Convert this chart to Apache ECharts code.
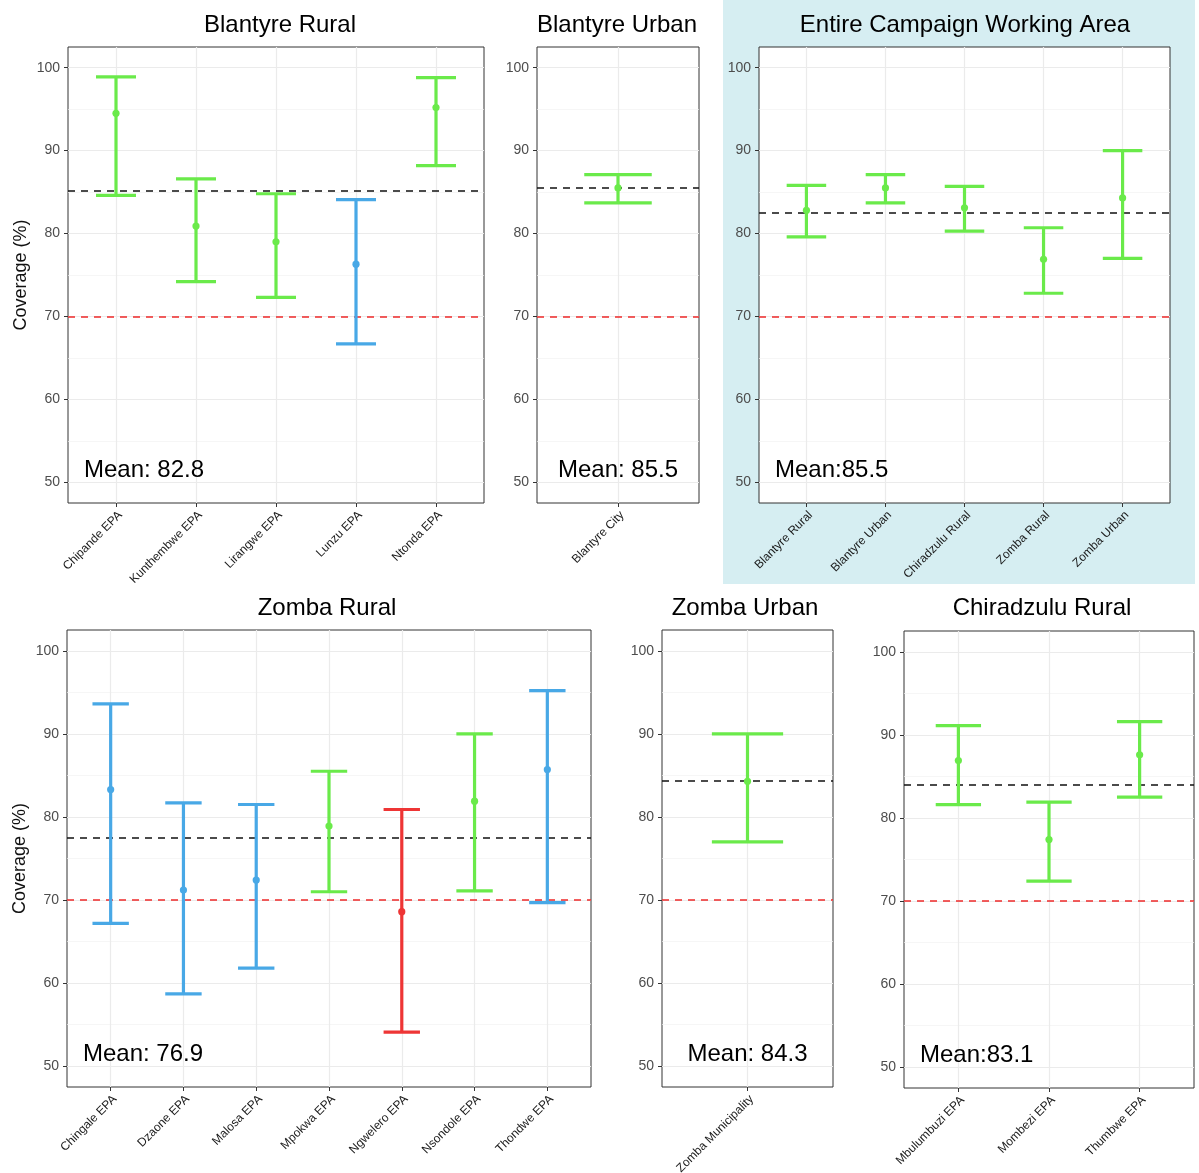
<!DOCTYPE html>
<html>
<head>
<meta charset="utf-8">
<script src="https://cdn.jsdelivr.net/npm/echarts@6/dist/echarts.min.js"></script>
<style>
html,body{margin:0;padding:0;background:#fff;}
#chart{width:1199px;height:1173px;}
</style>
</head>
<body>
<div id="chart"></div>
<script>
// ---------------- DATA ----------------
const threshold = 70;
const yTicks = [50, 60, 70, 80, 90, 100];
const yMinor = [55, 65, 75, 85, 95];

const brTitle = 'Blantyre Rural';
const brCats = ['Chipande EPA', 'Kunthembwe EPA', 'Lirangwe EPA', 'Lunzu EPA', 'Ntonda EPA'];
const brMean = [94.5, 80.9, 79.0, 76.3, 95.2];
const brLower = [84.6, 74.2, 72.3, 66.7, 88.2];
const brUpper = [98.9, 86.6, 84.8, 84.1, 98.8];
const brRef = 85.2;
const brLabel = 'Mean: 82.8';

const buTitle = 'Blantyre Urban';
const buCats = ['Blantyre City'];
const buMean = [85.5];
const buLower = [83.7];
const buUpper = [87.1];
const buRef = 85.5;
const buLabel = 'Mean: 85.5';

const ecTitle = 'Entire Campaign Working Area';
const ecCats = ['Blantyre Rural', 'Blantyre Urban', 'Chiradzulu Rural', 'Zomba Rural', 'Zomba Urban'];
const ecMean = [82.8, 85.5, 83.1, 76.9, 84.3];
const ecLower = [79.6, 83.7, 80.3, 72.8, 77.0];
const ecUpper = [85.8, 87.1, 85.7, 80.7, 90.0];
const ecRef = 82.5;
const ecLabel = 'Mean:85.5';

const zrTitle = 'Zomba Rural';
const zrCats = ['Chingale EPA', 'Dzaone EPA', 'Malosa EPA', 'Mpokwa EPA', 'Ngwelero EPA', 'Nsondole EPA', 'Thondwe EPA'];
const zrMean = [83.3, 71.2, 72.4, 78.9, 68.6, 81.9, 85.7];
const zrLower = [67.2, 58.7, 61.8, 71.0, 54.1, 71.1, 69.7];
const zrUpper = [93.6, 81.7, 81.5, 85.5, 80.9, 90.0, 95.2];
const zrRef = 77.5;
const zrLabel = 'Mean: 76.9';

const zuTitle = 'Zomba Urban';
const zuCats = ['Zomba Municipality'];
const zuMean = [84.3];
const zuLower = [77.0];
const zuUpper = [90.0];
const zuRef = 84.3;
const zuLabel = 'Mean: 84.3';

const crTitle = 'Chiradzulu Rural';
const crCats = ['Mbulumbuzi EPA', 'Mombezi EPA', 'Thumbwe EPA'];
const crMean = [86.9, 77.4, 87.6];
const crLower = [81.6, 72.4, 82.5];
const crUpper = [91.1, 81.9, 91.6];
const crRef = 84.0;
const crLabel = 'Mean:83.1';

// ---------------- LAYOUT / STYLE ----------------
const FONT = '"Liberation Sans", Arial, Helvetica, sans-serif';
const GREEN = '#6AEA4A', BLUE = '#48A8E6', RED = '#EE3535';
const capHalf = 0.25;

const panels = [
  {title: brTitle, cats: brCats, mean: brMean, lower: brLower, upper: brUpper, ref: brRef, label: brLabel,
   rect: [68, 47, 416, 456], titleX: 280, titleY: 25, labelAlign: 'left', yName: true},
  {title: buTitle, cats: buCats, mean: buMean, lower: buLower, upper: buUpper, ref: buRef, label: buLabel,
   rect: [537, 47, 162, 456], titleX: 617, titleY: 25, labelAlign: 'center', yName: false},
  {title: ecTitle, cats: ecCats, mean: ecMean, lower: ecLower, upper: ecUpper, ref: ecRef, label: ecLabel,
   rect: [759, 47, 411, 456], titleX: 965, titleY: 25, labelAlign: 'left', yName: false},
  {title: zrTitle, cats: zrCats, mean: zrMean, lower: zrLower, upper: zrUpper, ref: zrRef, label: zrLabel,
   rect: [67, 630, 524, 457], titleX: 327, titleY: 608, labelAlign: 'left', yName: true},
  {title: zuTitle, cats: zuCats, mean: zuMean, lower: zuLower, upper: zuUpper, ref: zuRef, label: zuLabel,
   rect: [662, 630, 171, 457], titleX: 745, titleY: 608, labelAlign: 'center', yName: false},
  {title: crTitle, cats: crCats, mean: crMean, lower: crLower, upper: crUpper, ref: crRef, label: crLabel,
   rect: [904, 631, 290, 457], titleX: 1042, titleY: 608, labelAlign: 'left', yName: false}
];

function barColor(m, lo) {
  if (m < threshold) return RED;
  if (lo < threshold) return BLUE;
  return GREEN;
}

const grids = [], xAxes = [], yAxes = [], series = [];
const graphics = [
  {type: 'rect', z: -10, shape: {x: 723, y: 0, width: 472, height: 584}, style: {fill: '#D6EEF2'}, silent: true}
];

panels.forEach((p, i) => {
  const n = p.cats.length;
  const idx = p.cats.map((c, j) => j + 1);
  grids.push({left: p.rect[0], top: p.rect[1], width: p.rect[2], height: p.rect[3],
    outerBoundsMode: 'none', containLabel: false,
    show: true, backgroundColor: '#ffffff', borderColor: '#333333', borderWidth: 1});
  xAxes.push({
    gridIndex: i, type: 'value', min: 0.4, max: n + 0.6,
    axisLine: {show: false}, splitLine: {show: false},
    axisTick: {show: true, length: 4, lineStyle: {color: '#333'}, customValues: idx},
    axisLabel: {customValues: idx, formatter: v => p.cats[Math.round(v) - 1] || '',
      rotate: 45, fontSize: 12, color: '#1a1a1a', margin: 6, verticalAlign: 'top', fontFamily: FONT}
  });
  yAxes.push({
    gridIndex: i, type: 'value', min: 47.5, max: 102.5,
    axisLine: {show: false}, splitLine: {show: false},
    axisTick: {show: true, length: 4, lineStyle: {color: '#333'}, customValues: yTicks},
    axisLabel: {customValues: yTicks, fontSize: 14, color: '#4D4D4D', margin: 8, fontFamily: FONT},
    name: p.yName ? 'Coverage (%)' : '',
    nameLocation: 'middle', nameGap: 38, nameRotate: 90,
    nameTextStyle: {fontSize: 18, color: '#111', fontFamily: FONT}
  });

  // grid lines (ggplot theme_bw style)
  const gl = [];
  yMinor.forEach(v => gl.push({yAxis: v, lineStyle: {color: '#F2F2F2', width: 0.7, type: 'solid'}}));
  yTicks.forEach(v => gl.push({yAxis: v, lineStyle: {color: '#EBEBEB', width: 1.2, type: 'solid'}}));
  idx.forEach(v => gl.push({xAxis: v, lineStyle: {color: '#EBEBEB', width: 1.2, type: 'solid'}}));
  series.push({
    type: 'line', xAxisIndex: i, yAxisIndex: i, data: [], zlevel: 0, z: 1, silent: true,
    markLine: {silent: true, symbol: ['none', 'none'], label: {show: false}, animation: false, data: gl}
  });

  // error bars
  series.push({
    type: 'custom', xAxisIndex: i, yAxisIndex: i, zlevel: 1, z: 3, animation: false,
    encode: {x: 0, y: [1, 2, 3]},
    data: p.cats.map((c, j) => [j + 1, p.mean[j], p.lower[j], p.upper[j]]),
    renderItem: function (params, api) {
      const x = api.value(0), m = api.value(1), lo = api.value(2), hi = api.value(3);
      const color = barColor(m, lo);
      const top = api.coord([x, hi]), bot = api.coord([x, lo]);
      const tl = api.coord([x - capHalf, hi]), tr = api.coord([x + capHalf, hi]);
      const bl = api.coord([x - capHalf, lo]), brr = api.coord([x + capHalf, lo]);
      const c = api.coord([x, m]);
      const st = {stroke: color, lineWidth: 3.2};
      return {type: 'group', children: [
        {type: 'line', shape: {x1: top[0], y1: top[1], x2: bot[0], y2: bot[1]}, style: st},
        {type: 'line', shape: {x1: tl[0], y1: tl[1], x2: tr[0], y2: tr[1]}, style: st},
        {type: 'line', shape: {x1: bl[0], y1: bl[1], x2: brr[0], y2: brr[1]}, style: st},
        {type: 'circle', shape: {cx: c[0], cy: c[1], r: 3.6}, style: {fill: color}}
      ]};
    }
  });

  // reference lines
  series.push({
    type: 'line', xAxisIndex: i, yAxisIndex: i, data: [], zlevel: 2, z: 5, silent: true,
    markLine: {silent: true, symbol: ['none', 'none'], label: {show: false}, animation: false, data: [
      {yAxis: threshold, lineStyle: {color: '#EE2A2A', width: 1.6, type: [7, 6]}},
      {yAxis: p.ref, lineStyle: {color: '#111111', width: 1.6, type: [7, 6]}}
    ]}
  });

  // titles and mean annotations
  graphics.push({type: 'text', x: p.titleX, y: p.titleY, z: 10, silent: true,
    style: {text: p.title, font: '24px ' + FONT, fill: '#000', align: 'center', verticalAlign: 'middle'}});
  const lx = p.labelAlign === 'center' ? p.rect[0] + p.rect[2] / 2 : p.rect[0] + 16;
  const ly = p.rect[1] + p.rect[3] - 33;
  graphics.push({type: 'text', x: lx, y: ly, z: 10, silent: true,
    style: {text: p.label, font: '24px ' + FONT, fill: '#000', align: p.labelAlign, verticalAlign: 'middle'}});
});

const chart = echarts.init(document.getElementById('chart'), null, {renderer: 'canvas'});
chart.setOption({
  animation: false,
  backgroundColor: '#ffffff',
  grid: grids,
  xAxis: xAxes,
  yAxis: yAxes,
  series: series,
  graphic: {elements: graphics}
});
</script>
</body>
</html>
